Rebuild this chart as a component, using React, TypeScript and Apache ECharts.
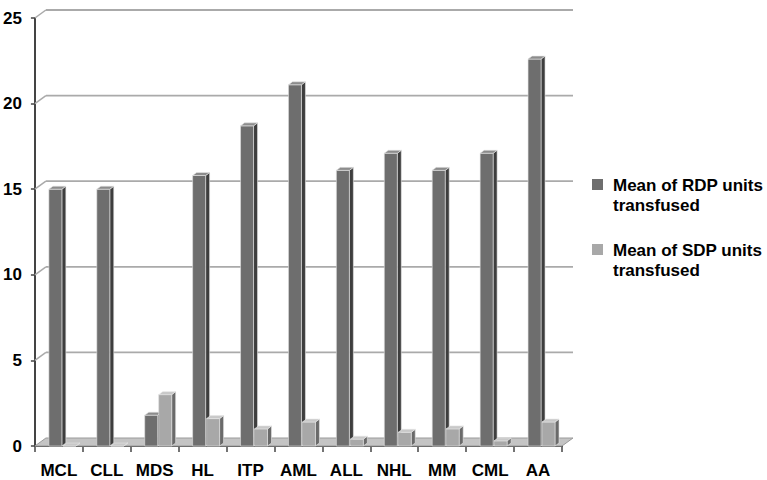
import React, { useEffect, useRef } from "react";
import * as echarts from "echarts";

const categories = ["MCL", "CLL", "MDS", "HL", "ITP", "AML", "ALL", "NHL", "MM", "CML", "AA"];
const rdpValues = [15.0, 15.0, 1.8, 15.8, 18.7, 21.1, 16.1, 17.1, 16.1, 17.1, 22.6];
const sdpValues = [0, 0, 3.0, 1.6, 1.0, 1.4, 0.4, 0.8, 1.0, 0.3, 1.4];
const yTicks = [0, 5, 10, 15, 20, 25];
const seriesNames = ["Mean of RDP units\ntransfused", "Mean of SDP units\ntransfused"];

const DX = 11;
const DY = 8;
const BDX = 4;
const BDY = 3;
const FONT = "'Liberation Sans', Arial, sans-serif";

function makeBarRender(offL: number, offR: number, colors: { front: string; side: string; top: string }) {
  return (params: any, api: any) => {
    const idx = api.value(0);
    const val = api.value(1);
    const top = api.coord([idx, val]);
    const base = api.coord([idx, 0]);
    const band = api.size([1, 0])[0];
    const k = band / 48;
    const L = top[0] + offL * k;
    const R = top[0] + offR * k;
    const T = top[1];
    const B = base[1];
    return {
      type: "group",
      children: [
        {
          type: "polygon",
          shape: { points: [[R, T], [R + BDX, T - BDY], [R + BDX, B - BDY], [R, B]] },
          style: { fill: colors.side, stroke: "#e6e6e6", lineWidth: 0.6 },
        },
        {
          type: "rect",
          shape: { x: L, y: T, width: R - L, height: B - T },
          style: { fill: colors.front, stroke: "#e0e0e0", lineWidth: 0.6 },
        },
        {
          type: "polygon",
          shape: { points: [[L, T], [L + BDX, T - BDY], [R + BDX, T - BDY], [R, T]] },
          style: { fill: colors.top, stroke: "#e6e6e6", lineWidth: 0.6 },
        },
      ],
    };
  };
}

export default function App() {
  const ref = useRef<HTMLDivElement>(null);
  useEffect(() => {
    if (!ref.current) return;
    const chart = echarts.init(ref.current, null, { renderer: "svg" });
    const option: any = {
      animation: false,
      backgroundColor: "#ffffff",
      grid: { left: 32, right: 205, top: 18, bottom: 34 },
      xAxis: {
        type: "category",
        data: categories,
        boundaryGap: true,
        axisLine: { show: true, lineStyle: { color: "#444", width: 2 } },
        axisTick: { show: true, alignWithLabel: false, length: 6, lineStyle: { color: "#444", width: 1.5 } },
        axisLabel: {
          color: "#000",
          fontFamily: FONT,
          fontWeight: "bold",
          fontSize: 17,
          margin: 16,
          interval: 0,
        },
        splitLine: { show: false },
      },
      yAxis: {
        type: "value",
        min: 0,
        max: 25,
        interval: 5,
        axisLine: { show: true, lineStyle: { color: "#444", width: 2 } },
        axisTick: { show: true, length: 4, lineStyle: { color: "#444", width: 1.5 } },
        axisLabel: {
          color: "#000",
          fontFamily: FONT,
          fontWeight: "bold",
          fontSize: 17,
          margin: 13,
        },
        splitLine: { show: false },
      },
      series: [
        {
          type: "custom",
          name: "wall",
          silent: true,
          clip: false,
          z: 1,
          data: yTicks.map((v) => [0, v]),
          encode: { x: 0, y: 1 },
          renderItem: (params: any, api: any) => {
            const v = api.value(1);
            const cs = params.coordSys;
            const x0 = cs.x;
            const x1 = cs.x + cs.width;
            const y = api.coord([0, v])[1];
            if (v === 0) {
              return {
                type: "polygon",
                shape: { points: [[x0, y], [x0 + DX, y - DY], [x1 + DX, y - DY], [x1, y]] },
                style: { fill: "#c4c4c4", stroke: "#9a9a9a", lineWidth: 1 },
              };
            }
            return {
              type: "group",
              children: [
                {
                  type: "line",
                  shape: { x1: x0, y1: y, x2: x0 + DX, y2: y - DY },
                  style: { stroke: "#aaaaaa", lineWidth: 1.5 },
                },
                {
                  type: "line",
                  shape: { x1: x0 + DX, y1: y - DY, x2: x1 + DX, y2: y - DY },
                  style: { stroke: "#aaaaaa", lineWidth: 1.8 },
                },
              ],
            };
          },
        },
        {
          type: "custom",
          name: seriesNames[0],
          clip: false,
          z: 3,
          itemStyle: { color: "#6e6e6e" },
          data: rdpValues.map((v, i) => [i, v]),
          encode: { x: 0, y: 1 },
          renderItem: makeBarRender(-10, 3, { front: "#6e6e6e", side: "#3e3e3e", top: "#8c8c8c" }),
        },
        {
          type: "custom",
          name: seriesNames[1],
          clip: false,
          z: 3,
          itemStyle: { color: "#a8a8a8" },
          data: sdpValues.map((v, i) => [i, v]),
          encode: { x: 0, y: 1 },
          renderItem: makeBarRender(4, 17, { front: "#a8a8a8", side: "#6a6a6a", top: "#c8c8c8" }),
        },
      ],
      graphic: [
        { type: "rect", left: 592, top: 179, shape: { width: 11, height: 11 }, style: { fill: "#6e6e6e" } },
        {
          type: "text",
          left: 613,
          top: 175,
          style: {
            text: seriesNames[0],
            fill: "#000",
            font: "bold 17px " + FONT,
            lineHeight: 20,
          },
        },
        { type: "rect", left: 592, top: 244, shape: { width: 11, height: 11 }, style: { fill: "#a8a8a8" } },
        {
          type: "text",
          left: 613,
          top: 240,
          style: {
            text: seriesNames[1],
            fill: "#000",
            font: "bold 17px " + FONT,
            lineHeight: 20,
          },
        },
      ],
    };
    chart.setOption(option);
    return () => chart.dispose();
  }, []);
  return <div ref={ref} style={{ position: "fixed", left: 0, top: 0, width: 767, height: 480 }} />;
}
